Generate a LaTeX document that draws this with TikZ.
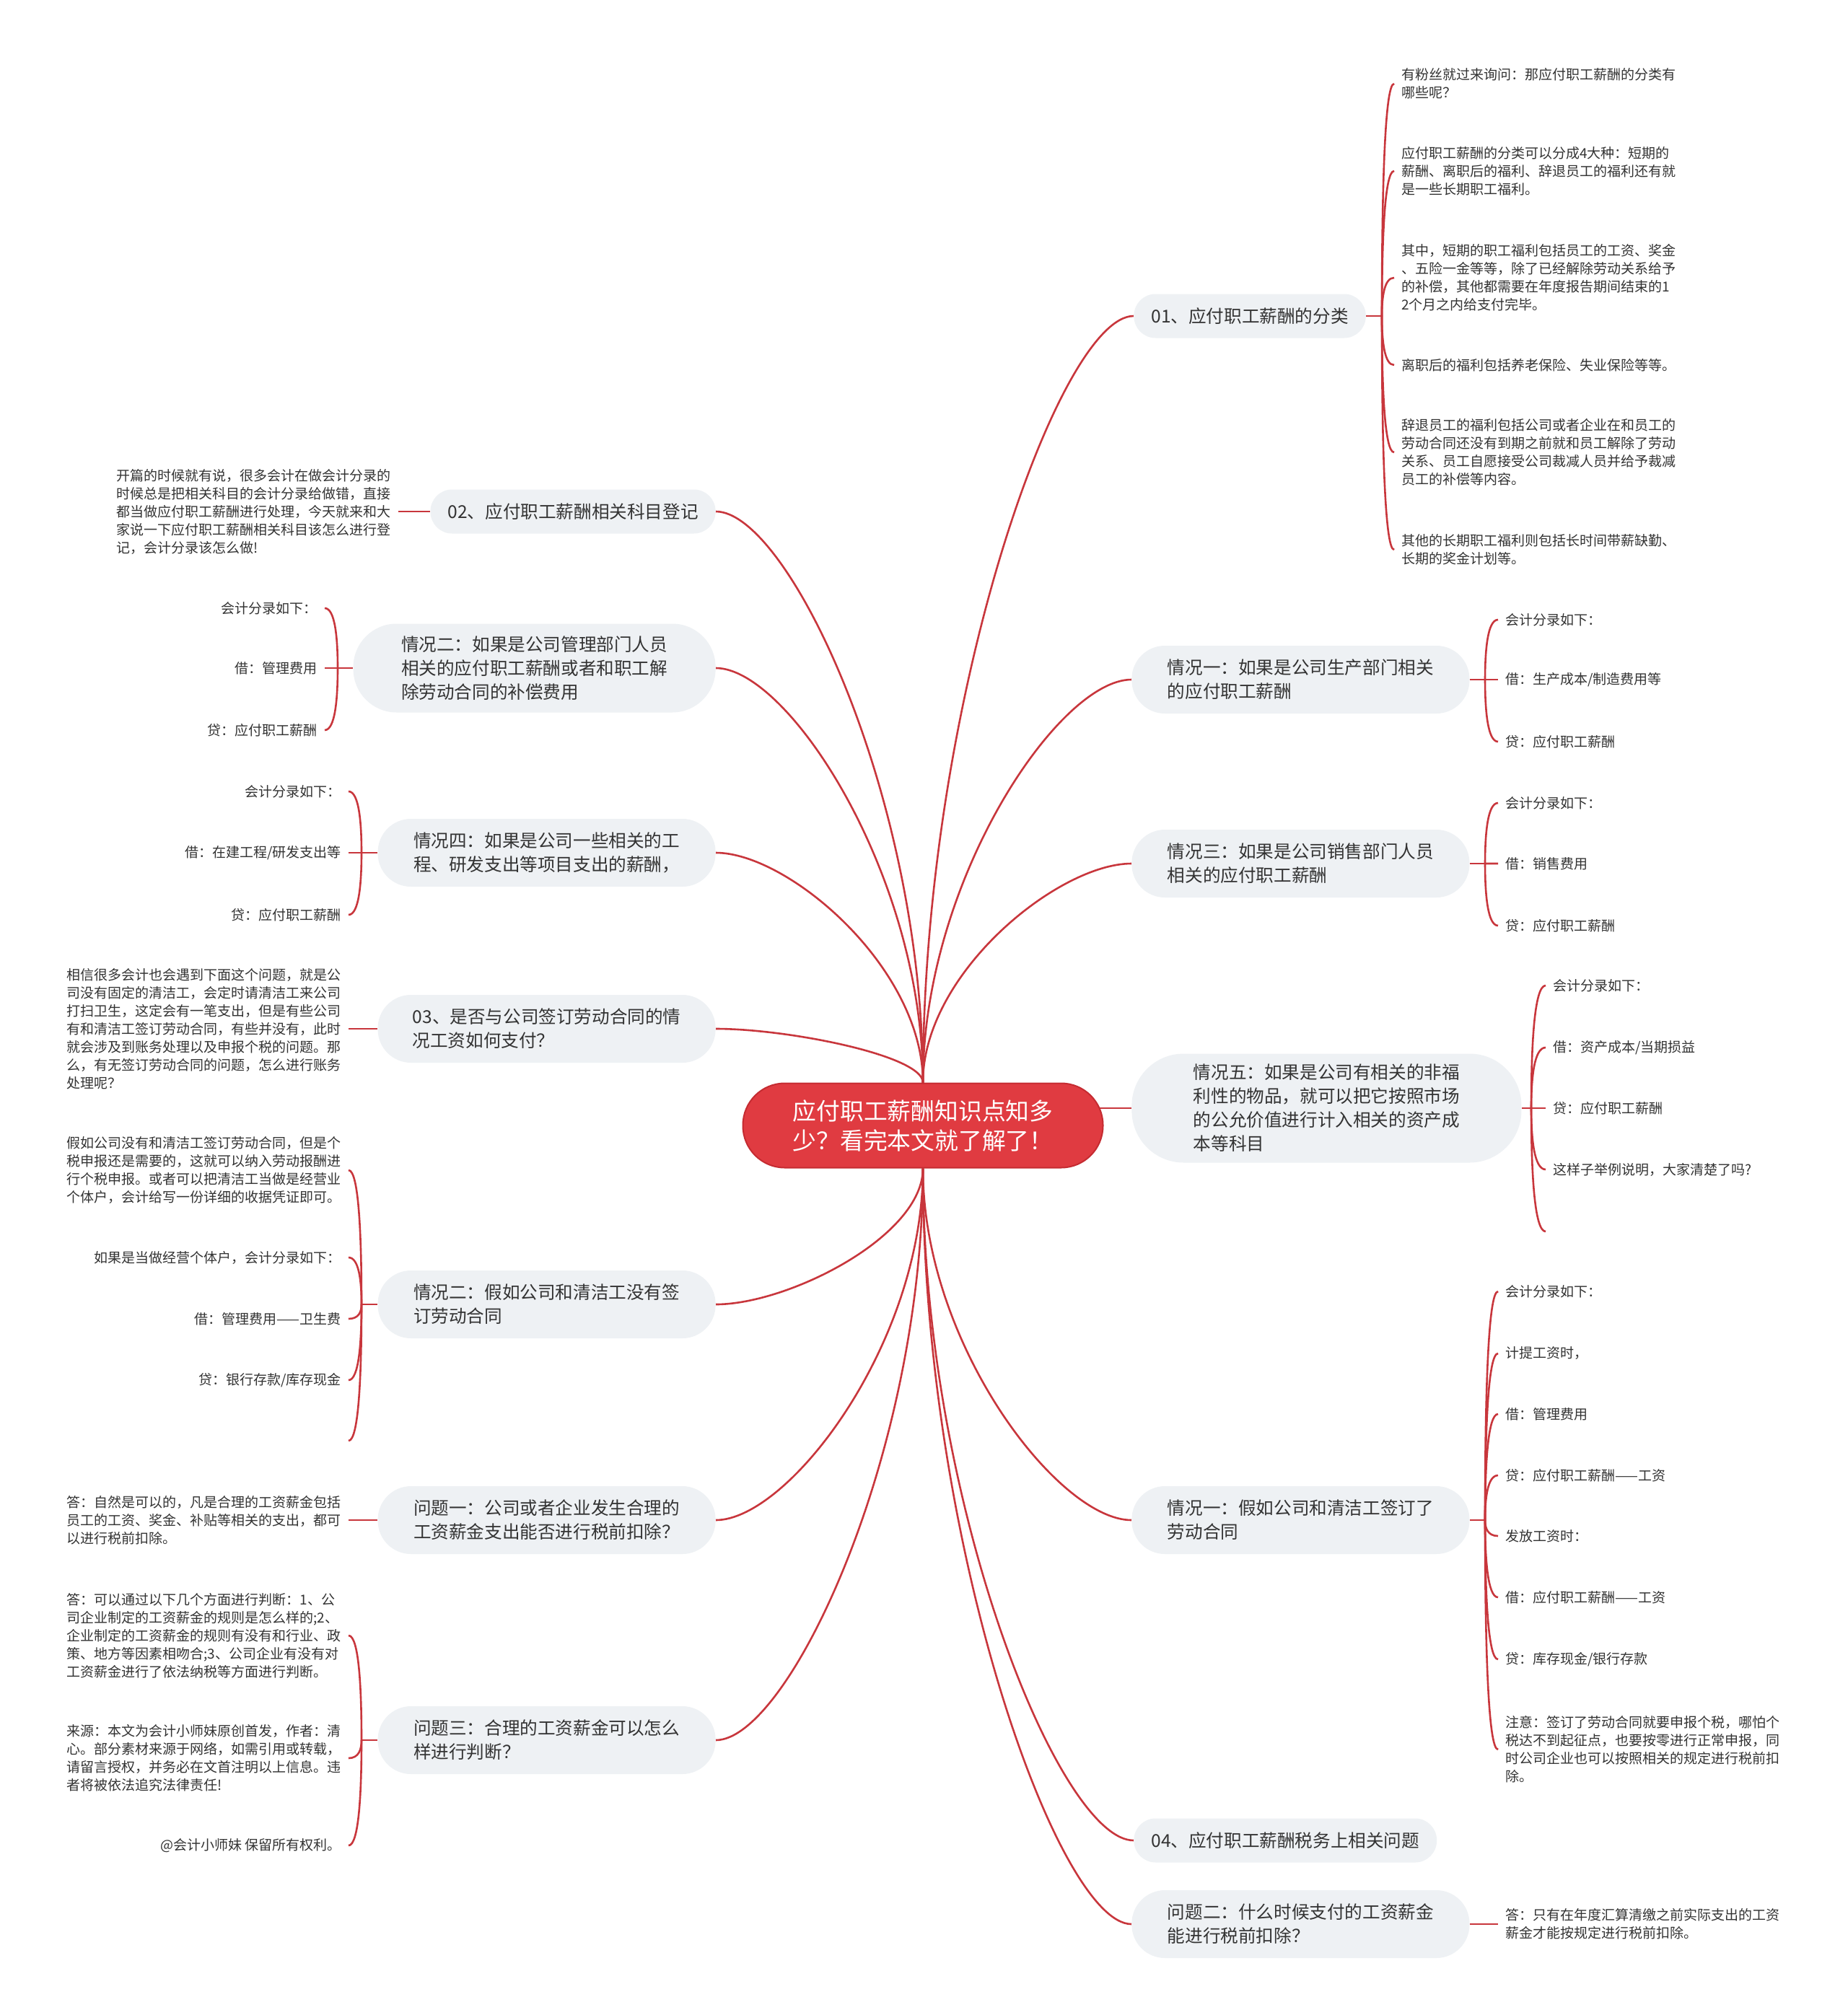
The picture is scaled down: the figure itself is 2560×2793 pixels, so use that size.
\documentclass[tikz,border=0pt]{standalone}
\usepackage{fontspec}
\setmainfont{Noto Sans CJK SC}
\usetikzlibrary{calc, backgrounds}
\definecolor{cred}{HTML}{C8363C}
\definecolor{chub}{HTML}{E03B41}
\definecolor{chubline}{HTML}{C52B31}
\definecolor{cpill}{HTML}{EEF1F4}
\definecolor{cink}{HTML}{333333}
\tikzset{
  every picture/.style={x=0.5pt, y=-0.5pt},
  topic/.style={fill=cpill, text=cink, align=left, inner xsep=12pt, inner ysep=4pt,
    font=\fontsize{12.3}{16.5}\selectfont},
  link/.style={draw=cred, line width=1.3pt},
  branch/.style={link, to path={.. controls ($(\tikztostart)!.5!(\tikztostart|-\tikztotarget)$)
      and ($(\tikztotarget)!.35!(\tikztostart|-\tikztotarget)$) .. (\tikztotarget)}},
  twig/.style={link, to path={.. controls ($(\tikztostart)!.5!(\tikztostart|-\tikztotarget)$)
      and ($(\tikztotarget)!.8!(\tikztostart|-\tikztotarget)$) .. (\tikztotarget)}},
  leaf/.style={text=cink, align=left, inner xsep=5pt, inner ysep=1pt,
    font=\fontsize{9.5}{12.5}\selectfont},
}

\begin{document}
\begin{tikzpicture}[
    hub/.style={fill=chub, draw=chubline, line width=1pt, text=white, align=left,
      rounded corners=29pt, minimum width=249.5pt, minimum height=58.5pt,
      font=\fontsize{16.4}{20.5}\selectfont},
    one/.style={topic, minimum height=30.5pt, rounded corners=15pt},
    two/.style={topic, minimum width=234pt, minimum height=47pt, rounded corners=23pt},
    lt/.style={anchor=east},
    rt/.style={anchor=west},
    lleaf/.style={leaf, anchor=east},
    rleaf/.style={leaf, anchor=west},
  ]
  \node[hub] (hub) at (1279,1560) {应付职工薪酬知识点知多\\少？看完本文就了解了！};

  % right topics
  \node[one, rt] (r1) at (1571,438)  {01、应付职工薪酬的分类};
  \node[two, rt] (r2) at (1568,942)  {情况一：如果是公司生产部门相关\\的应付职工薪酬};
  \node[two, rt] (r3) at (1568,1197) {情况三：如果是公司销售部门人员\\相关的应付职工薪酬};
  \node[two, rt, minimum width=270pt, minimum height=75.5pt, rounded corners=36pt] (r4) at (1568,1536)
    {情况五：如果是公司有相关的非福\\利性的物品，就可以把它按照市场\\的公允价值进行计入相关的资产成\\本等科目};
  \node[two, rt] (r5) at (1568,2107) {情况一：假如公司和清洁工签订了\\劳动合同};
  \node[one, rt] (r6) at (1571,2551) {04、应付职工薪酬税务上相关问题};
  \node[two, rt] (r7) at (1568,2667) {问题二：什么时候支付的工资薪金\\能进行税前扣除？};

  % left topics
  \node[one, lt] (l1) at (992,709)  {02、应付职工薪酬相关科目登记};
  \node[two, lt, minimum width=251pt, minimum height=61.5pt, rounded corners=30pt] (l2) at (992,926)
    {情况二：如果是公司管理部门人员\\相关的应付职工薪酬或者和职工解\\除劳动合同的补偿费用};
  \node[two, lt] (l3) at (992,1182) {情况四：如果是公司一些相关的工\\程、研发支出等项目支出的薪酬，};
  \node[two, lt] (l4) at (992,1426) {03、是否与公司签订劳动合同的情\\况工资如何支付？};
  \node[two, lt] (l5) at (992,1808) {情况二：假如公司和清洁工没有签\\订劳动合同};
  \node[two, lt] (l6) at (992,2107) {问题一：公司或者企业发生合理的\\工资薪金支出能否进行税前扣除？};
  \node[two, lt] (l7) at (992,2412) {问题三：合理的工资薪金可以怎么\\样进行判断？};

  % 01 leaves
  \coordinate (r1j) at (1915,438);
  \node[rleaf] (r1a) at (1932,116) {有粉丝就过来询问：那应付职工薪酬的分类有\\哪些呢？};
  \node[rleaf] (r1b) at (1932,237) {应付职工薪酬的分类可以分成4大种：短期的\\薪酬、离职后的福利、辞退员工的福利还有就\\是一些长期职工福利。};
  \node[rleaf] (r1c) at (1932,385) {其中，短期的职工福利包括员工的工资、奖金\\、五险一金等等，除了已经解除劳动关系给予\\的补偿，其他都需要在年度报告期间结束的1\\2个月之内给支付完毕。};
  \node[rleaf] (r1d) at (1932,506) {离职后的福利包括养老保险、失业保险等等。};
  \node[rleaf] (r1e) at (1932,627) {辞退员工的福利包括公司或者企业在和员工的\\劳动合同还没有到期之前就和员工解除了劳动\\关系、员工自愿接受公司裁减人员并给予裁减\\员工的补偿等内容。};
  \node[rleaf] (r1f) at (1932,762) {其他的长期职工福利则包括长时间带薪缺勤、\\长期的奖金计划等。};

  % production / sales leaves
  \coordinate (r2j) at (2058,942);
  \node[rleaf] (r2a) at (2076,859)  {会计分录如下：};
  \node[rleaf] (r2b) at (2076,942)  {借：生产成本/制造费用等};
  \node[rleaf] (r2c) at (2076,1028) {贷：应付职工薪酬};
  \coordinate (r3j) at (2058,1197);
  \node[rleaf] (r3a) at (2076,1113) {会计分录如下：};
  \node[rleaf] (r3b) at (2076,1197) {借：销售费用};
  \node[rleaf] (r3c) at (2076,1283) {贷：应付职工薪酬};

  % non-welfare goods leaves
  \coordinate (r4j) at (2122,1536);
  \node[rleaf] (r4a) at (2142,1366) {会计分录如下：};
  \node[rleaf] (r4b) at (2142,1452) {借：资产成本/当期损益};
  \node[rleaf] (r4c) at (2142,1536) {贷：应付职工薪酬};
  \node[rleaf] (r4d) at (2142,1621) {这样子举例说明，大家清楚了吗?};
  \node[rleaf] (r4e) at (2142,1707) {};

  % signed contract leaves
  \coordinate (r5j) at (2058,2107);
  \node[rleaf] (r5a) at (2076,1790) {会计分录如下：};
  \node[rleaf] (r5b) at (2076,1876) {计提工资时，};
  \node[rleaf] (r5c) at (2076,1960) {借：管理费用};
  \node[rleaf] (r5d) at (2076,2045) {贷：应付职工薪酬——工资};
  \node[rleaf] (r5e) at (2076,2129) {发放工资时：};
  \node[rleaf] (r5f) at (2076,2214) {借：应付职工薪酬——工资};
  \node[rleaf] (r5g) at (2076,2300) {贷：库存现金/银行存款};
  \node[rleaf] (r5h) at (2076,2425) {注意：签订了劳动合同就要申报个税，哪怕个\\税达不到起征点，也要按零进行正常申报，同\\时公司企业也可以按照相关的规定进行税前扣\\除。};
  \node[rleaf] (r7a) at (2076,2667) {答：只有在年度汇算清缴之前实际支出的工资\\薪金才能按规定进行税前扣除。};

  % left leaves
  \node[lleaf] (l1a) at (552,709) {开篇的时候就有说，很多会计在做会计分录的\\时候总是把相关科目的会计分录给做错，直接\\都当做应付职工薪酬进行处理，今天就来和大\\家说一下应付职工薪酬相关科目该怎么进行登\\记，会计分录该怎么做!};
  \coordinate (l2j) at (468,926);
  \node[lleaf] (l2a) at (450,843) {会计分录如下：};
  \node[lleaf] (l2b) at (450,926) {借：管理费用};
  \node[lleaf] (l2c) at (450,1012) {贷：应付职工薪酬};
  \coordinate (l3j) at (501,1182);
  \node[lleaf] (l3a) at (483,1097) {会计分录如下：};
  \node[lleaf] (l3b) at (483,1182) {借：在建工程/研发支出等};
  \node[lleaf] (l3c) at (483,1268) {贷：应付职工薪酬};
  \node[lleaf] (l4a) at (483,1426) {相信很多会计也会遇到下面这个问题，就是公\\司没有固定的清洁工，会定时请清洁工来公司\\打扫卫生，这定会有一笔支出，但是有些公司\\有和清洁工签订劳动合同，有些并没有，此时\\就会涉及到账务处理以及申报个税的问题。那\\么，有无签订劳动合同的问题，怎么进行账务\\处理呢？};
  \coordinate (l5j) at (501,1808);
  \node[lleaf] (l5a) at (483,1622) {假如公司没有和清洁工签订劳动合同，但是个\\税申报还是需要的，这就可以纳入劳动报酬进\\行个税申报。或者可以把清洁工当做是经营业\\个体户，会计给写一份详细的收据凭证即可。};
  \node[lleaf] (l5b) at (483,1743) {如果是当做经营个体户，会计分录如下：};
  \node[lleaf] (l5c) at (483,1828) {借：管理费用——卫生费};
  \node[lleaf] (l5d) at (483,1913) {贷：银行存款/库存现金};
  \node[lleaf] (l5e) at (483,1997) {};
  \node[lleaf] (l6a) at (483,2107) {答：自然是可以的，凡是合理的工资薪金包括\\员工的工资、奖金、补贴等相关的支出，都可\\以进行税前扣除。};
  \coordinate (l7j) at (501,2412);
  \node[lleaf] (l7a) at (483,2267) {答：可以通过以下几个方面进行判断：1、公\\司企业制定的工资薪金的规则是怎么样的;2、\\企业制定的工资薪金的规则有没有和行业、政\\策、地方等因素相吻合;3、公司企业有没有对\\工资薪金进行了依法纳税等方面进行判断。};
  \node[lleaf] (l7b) at (483,2437) {来源：本文为会计小师妹原创首发，作者：清\\心。部分素材来源于网络，如需引用或转载，\\请留言授权，并务必在文首注明以上信息。违\\者将被依法追究法律责任!};
  \node[lleaf] (l7c) at (483,2558) {@会计小师妹 保留所有权利。};

  \begin{scope}[on background layer]
    \fill[white] (0,0) rectangle (2560,2793);
    % hub to topics
    \foreach \t in {r1, r2, r3} \draw[branch] (hub.north) to (\t.west);
    \foreach \t in {r5, r6, r7} \draw[branch] (hub.south) to (\t.west);
    \foreach \t in {l1, l2, l3, l4} \draw[branch] (hub.north) to (\t.east);
    \foreach \t in {l5, l6, l7} \draw[branch] (hub.south) to (\t.east);
    \draw[link] (hub.center |- r4.west) -- (r4.west);

    % topics to leaves
    \draw[link] (r1.east) -- (r1j);
    \foreach \k in {r1a, r1b, r1c, r1d, r1e, r1f} \draw[twig] (r1j) to (\k.west);
    \draw[link] (r2.east) -- (r2j);
    \foreach \k in {r2a, r2b, r2c} \draw[twig] (r2j) to (\k.west);
    \draw[link] (r3.east) -- (r3j);
    \foreach \k in {r3a, r3b, r3c} \draw[twig] (r3j) to (\k.west);
    \draw[link] (r4.east) -- (r4j);
    \foreach \k in {r4a, r4b, r4c, r4d, r4e} \draw[twig] (r4j) to (\k.west);
    \draw[link] (r5.east) -- (r5j);
    \foreach \k in {r5a, r5b, r5c, r5d, r5e, r5f, r5g, r5h} \draw[twig] (r5j) to (\k.west);
    \draw[link] (r7.east) -- (r7.east -| r7a.west);

    \draw[link] (l1.west) -- (l1.west -| l1a.east);
    \draw[link] (l2.west) -- (l2j);
    \foreach \k in {l2a, l2b, l2c} \draw[twig] (l2j) to (\k.east);
    \draw[link] (l3.west) -- (l3j);
    \foreach \k in {l3a, l3b, l3c} \draw[twig] (l3j) to (\k.east);
    \draw[link] (l4.west) -- (l4.west -| l4a.east);
    \draw[link] (l5.west) -- (l5j);
    \foreach \k in {l5a, l5b, l5c, l5d, l5e} \draw[twig] (l5j) to (\k.east);
    \draw[link] (l6.west) -- (l6.west -| l6a.east);
    \draw[link] (l7.west) -- (l7j);
    \foreach \k in {l7a, l7b, l7c} \draw[twig] (l7j) to (\k.east);
  \end{scope}
\end{tikzpicture}
\end{document}
